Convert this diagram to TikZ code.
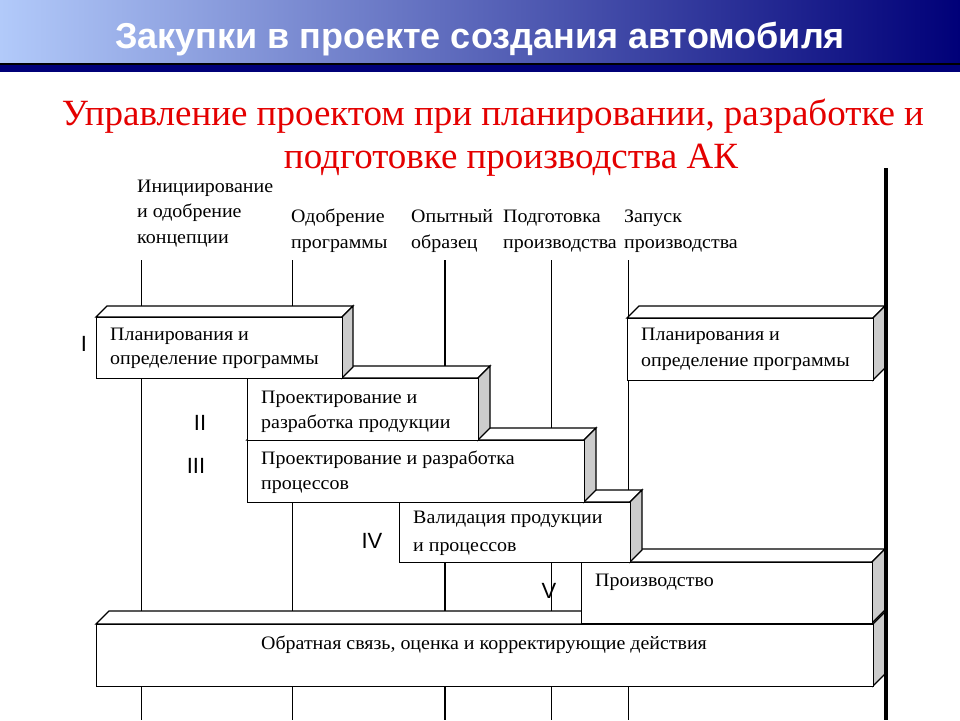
\documentclass[tikz,border=0pt]{standalone}
\usepackage{fontspec}
\setmainfont{Liberation Serif}
\newfontfamily\sansf{Liberation Sans}
\newfontfamily\boxf[FakeStretch=1.05]{Liberation Serif}
\definecolor{navy}{RGB}{0,0,120}
\definecolor{lightband}{RGB}{178,202,250}
\definecolor{facegray}{RGB}{204,204,204}
\definecolor{subred}{RGB}{228,0,0}
\tikzset{
  edge/.style={line width=1.3pt, line join=miter},
  vthin/.style={line width=1pt},
  lbl/.style={font=\boxf\fontsize{19}{25}\selectfont, inner sep=0pt, anchor=base west},
  roman/.style={font=\sansf\fontsize{22}{26}\selectfont, inner sep=0pt, anchor=base},
}
% #1 name, #2 x1, #3 y1, #4 x2, #5 y2, #6 depth
\newcommand\slab[6]{%
  \filldraw[edge, fill=white] (#2,#3) -- ++(#6,-#6) -- (#4+#6,#3-#6) -- (#4,#3) -- cycle;
  \filldraw[edge, fill=facegray] (#4,#3) -- (#4+#6,#3-#6) -- (#4+#6,#5-#6) -- (#4,#5) -- cycle;
  \node[edge, draw, fill=white, inner sep=0pt, anchor=north west,
        minimum width=#4-#2, minimum height=#5-#3] (#1) at (#2,#3) {};
}
\begin{document}
\begin{tikzpicture}[x=1pt, y=-1pt]
\useasboundingbox (0,0) rectangle (960,720);
\fill[white] (0,0) rectangle (960,720);
% header
\shade[left color=lightband, right color=navy] (0,0) rectangle (960,63);
\fill[black] (0,63) rectangle (960,65);
\fill[navy] (0,65) rectangle (960,72);
\node[font=\sansf\bfseries\fontsize{36}{40}\selectfont, text=white, inner sep=0pt, anchor=base] (title) at (480,48) {Закупки в проекте создания автомобиля};
% subtitle
\node[font=\fontsize{37}{44}\selectfont, text=subred, inner sep=0pt, anchor=base] (sub1) at (493,125) {Управление проектом при планировании, разработке и};
\node[font=\fontsize{37}{44}\selectfont, text=subred, inner sep=0pt, anchor=base] (sub2) at (511,168) {подготовке производства АК};
% milestone labels
\node[lbl] (m1a) at (137,192) {Инициирование};
\node[lbl] (m1b) at (137,217) {и одобрение};
\node[lbl] (m1c) at (137,243) {концепции};
\node[lbl] (m2a) at (291,222) {Одобрение};
\node[lbl] (m2b) at (291,248) {программы};
\node[lbl] (m3a) at (411,222) {Опытный};
\node[lbl] (m3b) at (411,248) {образец};
\node[lbl] (m4a) at (503,222) {Подготовка};
\node[lbl] (m4b) at (503,248) {производства};
\node[lbl] (m5a) at (624,222) {Запуск};
\node[lbl] (m5b) at (624,248) {производства};
% vertical lines
\draw[vthin] (141,260) -- (141,720);
\draw[vthin] (292,260) -- (292,720);
\draw[line width=2pt] (445,260) -- (445,720);
\draw[vthin] (551,260) -- (551,720);
\draw[vthin] (628,260) -- (628,720);
% boxes (back to front)
\slab{fb}{96}{624}{873}{686}{13}
\slab{prod}{581}{562}{872}{623}{13}
\slab{b4}{399}{502}{630}{562}{12}
\slab{b3}{247}{440}{584}{502}{12}
\slab{b2}{247}{378}{478}{440}{12}
\slab{b1}{96}{317}{342}{378}{11}
\slab{b1r}{627}{318}{873}{380}{12}
\draw[line width=3.5pt] (886,168) -- (886,720);
% box texts
\node[lbl] (t1a) at (110,340) {Планирования и};
\node[lbl] (t1b) at (110,364) {определение программы};
\node[lbl] (t1ra) at (641,340) {Планирования и};
\node[lbl] (t1rb) at (641,366) {определение программы};
\node[lbl] (t2a) at (261,403) {Проектирование и};
\node[lbl] (t2b) at (261,428) {разработка продукции};
\node[lbl] (t3a) at (261,464) {Проектирование и разработка};
\node[lbl] (t3b) at (261,489) {процессов};
\node[lbl] (t4a) at (413,523) {Валидация продукции};
\node[lbl] (t4b) at (413,551) {и процессов};
\node[lbl] (t5) at (595,586) {Производство};
\node[lbl, anchor=base] (tfb) at (484,649) {Обратная связь, оценка и корректирующие действия};
% roman numerals
\node[roman] (r1) at (84,351) {I};
\node[roman] (r2) at (200,430) {II};
\node[roman] (r3) at (196,473) {III};
\node[roman] (r4) at (372,548) {IV};
\node[roman] (r5) at (549,598) {V};
\end{tikzpicture}
\end{document}
